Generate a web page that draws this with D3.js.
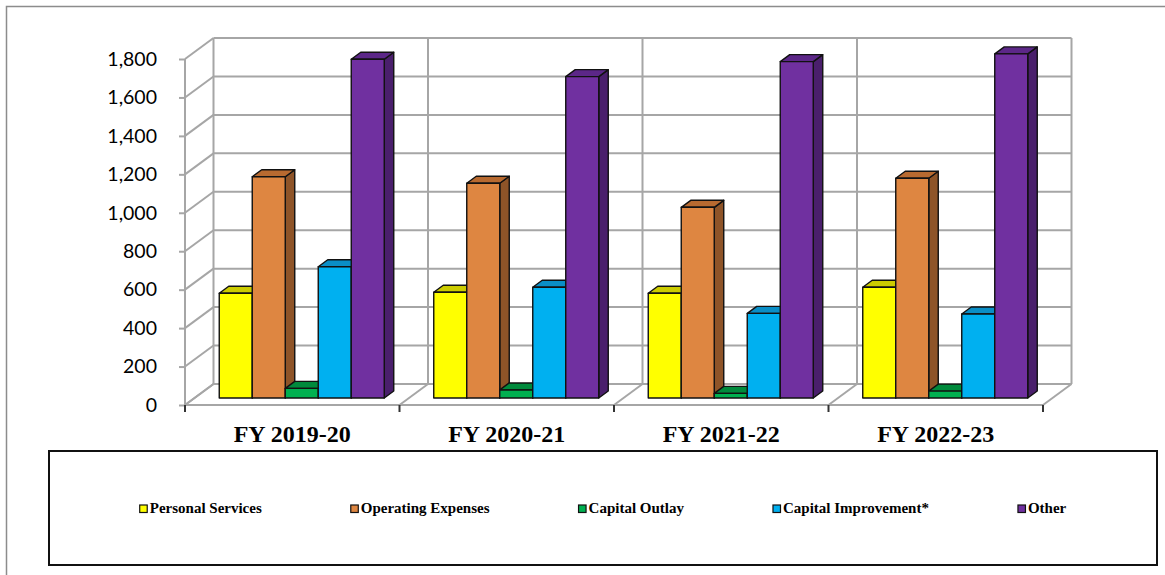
<!DOCTYPE html>
<html>
<head>
<meta charset="utf-8">
<script src="https://cdn.jsdelivr.net/npm/d3@7"></script>
<style>
  html, body { margin: 0; padding: 0; background: #fff; }
  svg { display: block; }
</style>
</head>
<body>
<svg id="chart" width="1165" height="575"></svg>
<script>
// Budget by category and fiscal year (in thousands)
const categories = ["FY 2019-20", "FY 2020-21", "FY 2021-22", "FY 2022-23"];
const seriesNames = ["Personal Services", "Operating Expenses", "Capital Outlay", "Capital Improvement*", "Other"];
const personalServices   = [545, 550, 545, 576];
const operatingExpenses  = [1151, 1117, 992, 1143];
const capitalOutlay      = [50, 42, 24, 36];
const capitalImprovement = [683, 576, 440, 437];
const other              = [1762, 1672, 1750, 1790];
const yTicks = [0, 200, 400, 600, 800, 1000, 1200, 1400, 1600, 1800];

const seriesValues = [personalServices, operatingExpenses, capitalOutlay, capitalImprovement, other];

// face colours: front, side, top
const palette = [
  { front: "#FFFF00", side: "#B8B800", top: "#CCCC00" },
  { front: "#DE8641", side: "#8E5428", top: "#B86A30" },
  { front: "#00B050", side: "#00703A", top: "#008A3C" },
  { front: "#00B0F0", side: "#0078A8", top: "#0A8EC6" },
  { front: "#7030A0", side: "#4A1F6C", top: "#5C2788" }
];

const svg = d3.select("#chart");

// outer chart frame
svg.append("rect")
  .attr("x", 6.5).attr("y", 6.5)
  .attr("width", 1200).attr("height", 600)
  .attr("fill", "none").attr("stroke", "#8c8c8c").attr("stroke-width", 1.5);

// oblique projection: depth t in [0,1] shifts right and up
const DX = 28.5, DY = -21;
const shift = t => [DX * t, DY * t];

const x = d3.scaleBand().domain(categories).range([185, 1043]).padding(0);
const y = d3.scaleLinear().domain([0, 1800]).range([405, 59]);
const xs = d3.scaleBand().domain(seriesNames).range([0, x.bandwidth()])
  .paddingInner(0).paddingOuter(0.75);

const gridColor = "#a6a6a6";
const grid = svg.append("g").attr("fill", "none").attr("stroke", gridColor).attr("stroke-width", 2);

const [bx, by] = shift(1);
const x0 = x.range()[0], x1 = x.range()[1];

// back wall horizontal grid lines
yTicks.forEach(v => {
  grid.append("line")
    .attr("x1", x0 + bx).attr("x2", x1 + bx)
    .attr("y1", y(v) + by).attr("y2", y(v) + by);
  // side wall diagonals
  grid.append("line")
    .attr("x1", x0).attr("y1", y(v))
    .attr("x2", x0 + bx).attr("y2", y(v) + by);
});

// back wall vertical lines and floor diagonals at category boundaries
const boundaries = categories.map(c => x(c)).concat([x1]);
boundaries.forEach(bxv => {
  grid.append("line")
    .attr("x1", bxv + bx).attr("x2", bxv + bx)
    .attr("y1", y(0) + by).attr("y2", y(1800) + by);
  grid.append("line")
    .attr("x1", bxv).attr("y1", y(0))
    .attr("x2", bxv + bx).attr("y2", y(0) + by);
});

// front value axis line
grid.append("line")
  .attr("x1", x0).attr("x2", x0)
  .attr("y1", y(0)).attr("y2", y(1800));
// front category axis line
grid.append("line")
  .attr("x1", x0).attr("x2", x1)
  .attr("y1", y(0)).attr("y2", y(0));

// value axis ticks and labels
const yAxis = d3.axisLeft(y).tickValues(yTicks).tickSize(6).tickPadding(22)
  .tickFormat(d3.format(","));
const yAxisG = svg.append("g").attr("transform", `translate(${x0},0)`).call(yAxis);
yAxisG.select(".domain").remove();
yAxisG.selectAll(".tick line").attr("stroke", gridColor).attr("stroke-width", 2);
yAxisG.selectAll(".tick text")
  .attr("fill", "#000")
  .style("font-family", "Lato, 'Liberation Sans', sans-serif")
  .style("font-size", "19.5px");

// category axis ticks
const xTickG = svg.append("g");
boundaries.forEach(bxv => {
  xTickG.append("line")
    .attr("x1", bxv).attr("x2", bxv)
    .attr("y1", y(0)).attr("y2", y(0) + 7)
    .attr("stroke", "#333").attr("stroke-width", 2);
});

// category labels
svg.append("g").selectAll("text").data(categories).join("text")
  .attr("x", d => x(d) + x.bandwidth() / 2)
  .attr("y", 442)
  .attr("text-anchor", "middle")
  .style("font-family", "'Liberation Serif', 'Times New Roman', serif")
  .style("font-weight", "bold")
  .style("font-size", "24px")
  .text(d => d);

// 3D bars, drawn left to right so each front face covers its neighbour's side
const tFront = 1 / 3, tBack = 2 / 3;
const [fdx, fdy] = shift(tFront);
const [kdx, kdy] = shift(tBack - tFront);
const bars = svg.append("g").attr("stroke", "#111").attr("stroke-width", 1.4).attr("stroke-linejoin", "round");

categories.forEach((cat, ci) => {
  seriesNames.forEach((name, si) => {
    const v = seriesValues[si][ci];
    const col = palette[si];
    const left = x(cat) + xs(name) + fdx;
    const right = left + xs.bandwidth();
    const bottom = y(0) + fdy;
    const top = y(v) + fdy;
    const g = bars.append("g");
    // side face
    g.append("path")
      .attr("fill", col.side)
      .attr("d", `M${right},${bottom}L${right + kdx},${bottom + kdy}L${right + kdx},${top + kdy}L${right},${top}Z`);
    // top face
    g.append("path")
      .attr("fill", col.top)
      .attr("d", `M${left},${top}L${left + kdx},${top + kdy}L${right + kdx},${top + kdy}L${right},${top}Z`);
    // front face
    g.append("rect")
      .attr("fill", col.front)
      .attr("x", left).attr("y", top)
      .attr("width", right - left).attr("height", bottom - top);
  });
});

// legend box
const legBox = { x: 49, y: 451, w: 1108, h: 114 };
svg.append("rect")
  .attr("x", legBox.x).attr("y", legBox.y)
  .attr("width", legBox.w).attr("height", legBox.h)
  .attr("fill", "#fff").attr("stroke", "#111").attr("stroke-width", 2);

const legend = svg.append("g");
const items = legend.selectAll("g").data(seriesNames).join("g");
items.append("rect")
  .attr("width", 7.5).attr("height", 7.5)
  .attr("y", 505)
  .attr("fill", (d, i) => palette[i].front)
  .attr("stroke", "#111").attr("stroke-width", 1.2);
items.append("text")
  .attr("x", 10)
  .attr("y", 513)
  .style("font-family", "'Liberation Serif', 'Times New Roman', serif")
  .style("font-weight", "bold")
  .style("font-size", "15px")
  .text(d => d);

// lay the items out in one centred row with equal gaps
const gap = 89;
const widths = [];
items.each(function () {
  widths.push(10 + d3.select(this).select("text").node().getComputedTextLength());
});
const total = d3.sum(widths) + gap * (widths.length - 1);
let cursor = legBox.x + legBox.w / 2 - total / 2;
items.each(function (d, i) {
  d3.select(this).attr("transform", `translate(${cursor},0)`);
  d3.select(this).select("rect").attr("x", 0);
  cursor += widths[i] + gap;
});
</script>
</body>
</html>
